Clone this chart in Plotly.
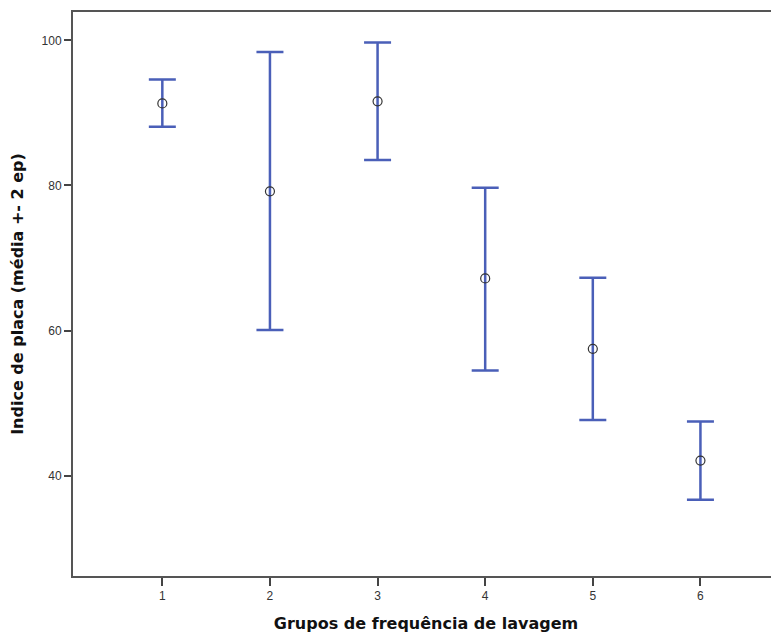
import plotly.graph_objects as go

groups = [1, 2, 3, 4, 5, 6]
means = [91.3, 79.2, 91.6, 67.2, 57.5, 42.1]
upper = [94.6, 98.4, 99.7, 79.7, 67.3, 47.5]
lower = [88.1, 60.1, 83.5, 54.5, 47.7, 36.7]

err_plus = [u - m for u, m in zip(upper, means)]
err_minus = [m - l for m, l in zip(means, lower)]

fig = go.Figure()
fig.add_trace(go.Scatter(
    x=groups, y=means, mode="markers",
    marker=dict(symbol="circle-open", size=9, color="#333333", line=dict(width=1.2)),
    error_y=dict(type="data", symmetric=False, array=err_plus, arrayminus=err_minus,
                 color="#4a5fb8", thickness=2.5, width=13.5),
    showlegend=False,
))

title_font = dict(family="DejaVu Sans, Verdana, sans-serif", size=16, color="#111111")

fig.update_layout(
    width=771, height=626,
    margin=dict(l=65, r=0, t=4, b=58),
    paper_bgcolor="white", plot_bgcolor="white",
    font=dict(family="Liberation Sans, Arial, sans-serif", color="#222222"),
    xaxis=dict(
        range=[0.17, 6.73], tickvals=groups, ticktext=[str(g) for g in groups],
        showgrid=False, zeroline=False, showline=True, linecolor="#555555", linewidth=2,
        mirror=True, ticks="outside", ticklen=8, tickwidth=1.5, tickcolor="#444444",
        tickfont=dict(size=12, color="#333333"),
        title=dict(text="<b>Grupos de frequência de lavagem</b>", font=title_font, standoff=15),
    ),
    yaxis=dict(
        range=[26.2, 103.9], tickvals=[40, 60, 80, 100],
        showgrid=False, zeroline=False, showline=True, linecolor="#555555", linewidth=2,
        ticks="outside", ticklen=7, tickwidth=1.5, tickcolor="#444444",
        tickfont=dict(size=12, color="#333333"),
        title=dict(text="<b>Indice de placa (média +- 2 ep)</b>", font=title_font, standoff=14),
    ),
)

fig.write_html("out.html")
